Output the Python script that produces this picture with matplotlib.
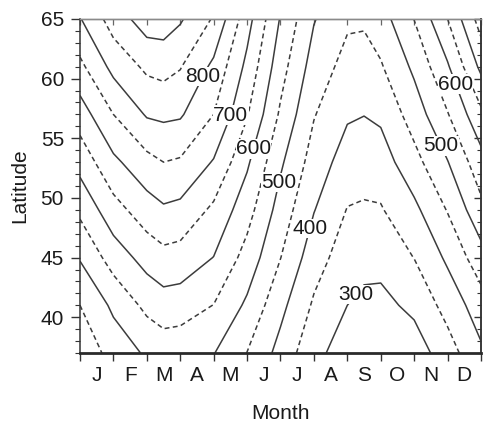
import numpy as np
import matplotlib
matplotlib.use("Agg")
import matplotlib.pyplot as plt
from matplotlib.ticker import MultipleLocator

plt.rcParams['font.family'] = ['Liberation Sans', 'DejaVu Sans']
plt.rcParams['lines.dashed_pattern'] = [3.2, 2.2]

# grid: month positions (0 = start of Jan, 12 = end of Dec)
months = [0, 1, 2, 2.5, 3, 4, 5, 6, 7, 8, 8.5, 9, 10, 11, 12]
lats = [37, 41, 45, 49, 53, 57, 61, 65]
month_labels = ['J', 'F', 'M', 'A', 'M', 'J', 'J', 'A', 'S', 'O', 'N', 'D']

# field values along each latitude, one per month position
lat37 = [412, 470, 507, 521, 517, 502, 449, 383, 314, 276, 260, 255, 273, 328, 391]
lat41 = [450, 510, 563, 578, 575, 549, 491, 414, 343, 300, 288, 286, 312, 368, 427]
lat45 = [504, 573, 619, 635, 630, 599, 531, 451, 372, 324, 316, 316, 351, 409, 480]
lat49 = [561, 631, 677, 693, 687, 640, 570, 479, 402, 348, 344, 346, 388, 453, 536]
lat53 = [618, 689, 734, 750, 744, 696, 608, 508, 428, 377, 372, 376, 433, 498, 581]
lat57 = [675, 750, 805, 810, 806, 750, 654, 542, 453, 406, 401, 409, 473, 547, 638]
lat61 = [738, 815, 860, 868, 853, 789, 687, 570, 478, 433, 429, 445, 510, 594, 712]
lat65 = [797, 873, 925, 925, 906, 845, 720, 596, 503, 458, 457, 478, 551, 650, 773]

levels = [300, 350, 400, 450, 500, 550, 600, 650, 700, 750, 800, 850, 900]
labelled = [300, 400, 500, 600, 700, 800]

# where the labels sit (month, latitude)
label_spots = [(4.0, 59.7), (4.46, 57.0), (5.2, 54.1), (6.07, 51.2),
               (7.03, 47.3), (8.14, 42.2), (11.1, 59.4), (10.75, 54.3)]

month_edges = list(range(13))
Z = np.array([lat37, lat41, lat45, lat49, lat53, lat57, lat61, lat65])

fig = plt.figure(figsize=(4.83, 4.23), dpi=100)
ax = fig.add_axes([80 / 483, 1 - 353 / 423, 401 / 483, 334 / 423])

styles = ['solid' if lv % 100 == 0 else 'dashed' for lv in levels]
cs = ax.contour(months, lats, Z, levels=levels, colors='#3c3c3c',
                linewidths=1.1, linestyles=styles)

# labels go on a line-less copy of the labelled levels
cs_lab = ax.contour(months, lats, Z, levels=labelled, colors='#1a1a1a',
                    linewidths=0)
texts = ax.clabel(cs_lab, manual=label_spots, inline=False,
                  fmt='%d', fontsize=15)
for t in texts:
    t.set_rotation(0)
    t.set_bbox(dict(facecolor='white', edgecolor='none', pad=0.2))

ax.set_xlim(0, 12)
ax.set_ylim(37, 65)

# x ticks: marks at month boundaries, letters in between
ax.set_xticks(month_edges)
ax.set_xticklabels([])
ax.set_xticks(np.arange(0.5, 12, 1), minor=True)
ax.set_xticklabels(month_labels, minor=True)
ax.tick_params(axis='x', which='major', direction='out', length=6, width=1,
               color='#333333')
ax.tick_params(axis='x', which='minor', length=0, pad=9, labelsize=15,
               labelcolor='#1a1a1a')

ax.set_yticks([40, 45, 50, 55, 60, 65])
ax.yaxis.set_minor_locator(MultipleLocator(1))
ax.tick_params(axis='y', which='major', direction='out', length=6.5, width=1,
               pad=5, labelsize=15, labelcolor='#1a1a1a', color='#333333')
ax.tick_params(axis='y', which='minor', direction='out', length=3.5, width=0.8,
               color='#333333')

for side in ['left', 'right']:
    ax.spines[side].set_linewidth(1.1)
    ax.spines[side].set_color('#333333')
ax.spines['bottom'].set_linewidth(2.0)
ax.spines['bottom'].set_color('#2a2a2a')
ax.spines['top'].set_linewidth(1.0)
ax.spines['top'].set_color('#8a8a8a')

# inward ticks on the right and top
ry = ax.secondary_yaxis('right')
ry.set_yticks([40, 45, 50, 55, 60, 65])
ry.yaxis.set_minor_locator(MultipleLocator(1))
ry.tick_params(axis='y', which='major', direction='in', length=5, width=1,
               labelright=False, color='#333333')
ry.tick_params(axis='y', which='minor', direction='in', length=3, width=0.8,
               color='#333333')
ry.spines['right'].set_linewidth(1.1)
ry.spines['right'].set_color('#333333')

tx = ax.secondary_xaxis('top')
tx.set_xticks(month_edges)
tx.tick_params(axis='x', direction='in', length=4, width=0.9,
               labeltop=False, color='#666666')
tx.spines['top'].set_linewidth(1.0)
tx.spines['top'].set_color('#8a8a8a')

ax.set_xlabel('Month', fontsize=15, labelpad=14, color='#1a1a1a')
ax.set_ylabel('Latitude', fontsize=15, labelpad=8, color='#1a1a1a')

fig.savefig('out.png', dpi=100)
